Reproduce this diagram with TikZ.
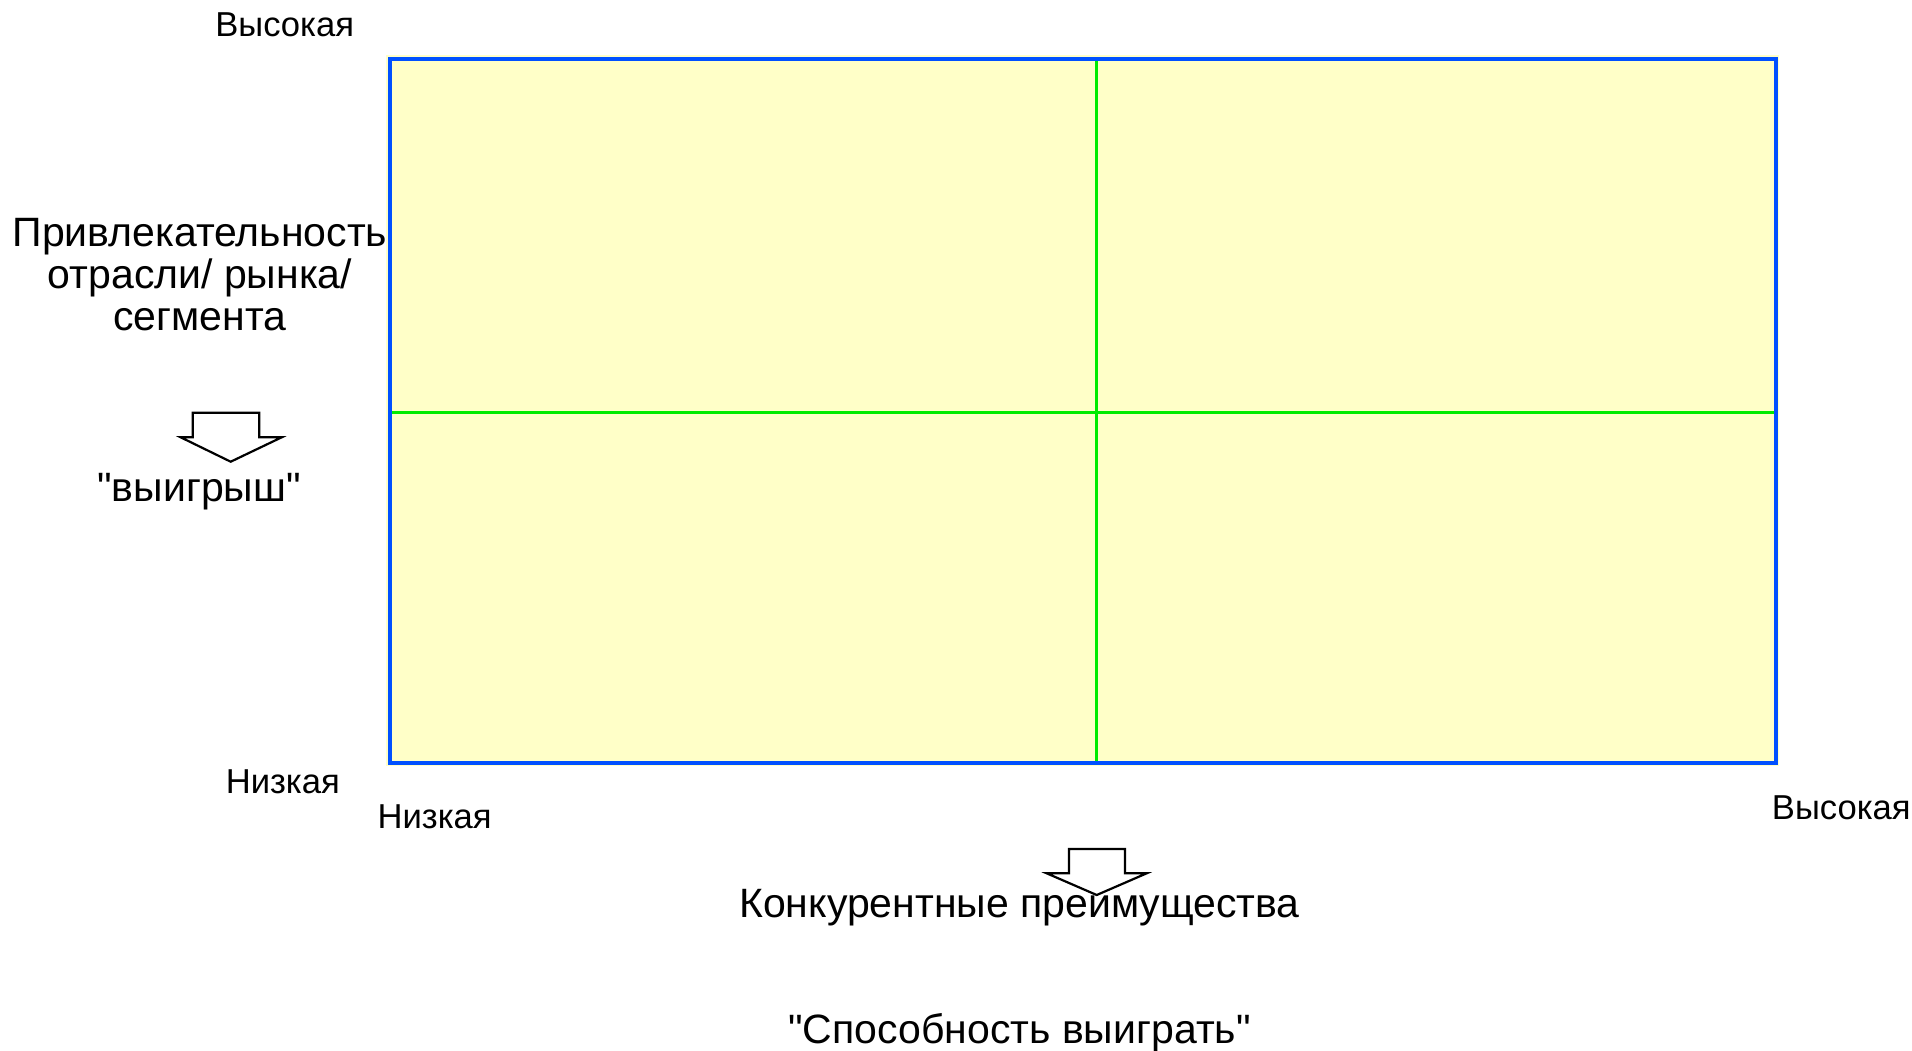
\documentclass[tikz,border=0pt]{standalone}
\usepackage{fontspec}
\setmainfont{Liberation Sans}[Ligatures=TeXOff]
\definecolor{fillyellow}{RGB}{255,255,200}
\definecolor{frameblue}{RGB}{0,80,255}
\definecolor{linegreen}{RGB}{0,235,0}
\begin{document}
\begin{tikzpicture}[x=0.5pt,y=-0.5pt,
  small/.style={font=\fontsize{17.3}{19}\selectfont, inner sep=0pt, anchor=base},
  big/.style={font=\fontsize{20.5}{21}\selectfont, inner sep=0pt, anchor=base},
  hollowarrow/.style={draw=black, line width=1.1pt, line join=miter}]
\useasboundingbox (0,0) rectangle (1912,1050);
% matrix frame
\coordinate (tl) at (389.5,59);
\coordinate (br) at (1776,763);
\fill[fillyellow] (386,55) rectangle (1779,766);
\draw[linegreen, line width=1.4pt] (1096.3,59) -- (1096.3,763);
\draw[linegreen, line width=1.4pt] (389.5,412.3) -- (1776,412.3);
\draw[frameblue, line width=2pt] (tl) rectangle (br);
% axis labels
\node[small] (yhigh) at (284.7,36) {Высокая};
\node[small] (ylow) at (282.8,793.3) {Низкая};
\node[small] (xlow) at (434.7,828.5) {Низкая};
\node[small] (xhigh) at (1841.3,819) {Высокая};
\node[font=\fontsize{20.5}{21}\selectfont, inner sep=0pt, anchor=north, align=center] (ytitle) at (200,218) {Привлекательность\\отрасли/ рынка/\\сегмента};
\node[big] (ywin) at (199,501.7) {"выигрыш"};
\node[big] (xtitle) at (1019.5,917) {Конкурентные преимущества};
\node[big] (xwin) at (1019.5,1043) {"Способность выиграть"};
% hollow arrows
\draw[hollowarrow] (192.7,412.7) -- (259.3,412.7) -- (259.3,437.3) -- (281.7,437.3) -- (230.7,461.7) -- (180.7,437.3) -- (192.7,437.3) -- cycle;
\draw[hollowarrow] (1069,849) -- (1125,849) -- (1125,873.3) -- (1146.7,873.3) -- (1096.7,895) -- (1046.7,873.3) -- (1069,873.3) -- cycle;
\end{tikzpicture}
\end{document}
